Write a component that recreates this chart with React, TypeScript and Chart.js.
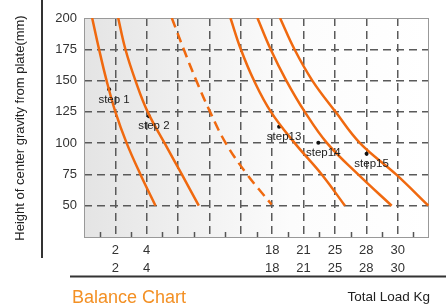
import React, { useEffect, useRef } from "react";
import { Chart, registerables } from "chart.js";

Chart.register(...registerables);

// ---- data ----
const HEIGHTS = [200, 175, 150, 125, 100, 75, 50];
const DASH_HEIGHTS = [200, 175, 150, 125, 100, 75, 51];
const STEP1_LOAD = [0.26, 0.48, 0.72, 1.0, 1.36, 1.8, 2.28];
const STEP2_LOAD = [1.09, 1.32, 1.64, 2.03, 2.57, 3.12, 3.66];
const DASH_LOAD = [2.8, 3.18, 3.58, 4.02, 4.52, 5.2, 5.98];
const STEP13_LOAD = [4.67, 5.0, 5.42, 5.96, 6.72, 7.58, 8.32];
const STEP14_LOAD = [5.53, 5.95, 6.45, 7.04, 7.75, 8.74, 9.81];
const STEP15_LOAD = [6.25, 6.71, 7.28, 8.02, 8.8, 9.95, 10.98];

const STEP_NAMES = ["step 1", "step 2", "step13", "step14", "step15"];
const STEP_LOADS = [0.8, 2.07, 6.22, 7.47, 9.01];
const STEP_HEIGHTS = [143, 121.5, 113, 100.4, 91.6];

const X_TICK_LABELS = ["", "2", "4", "", "", "", "18", "21", "25", "28", "30", ""];
const Y_MIN = 25;
const Y_MAX = 200;
const Y_STEP = 25;

const Y_TITLE = "Height of center gravity from plate(mm)";
const X_TITLE = "Total Load Kg";
const CHART_TITLE = "Balance Chart";

const ORANGE = "#f0690f";
const FONT = '"Liberation Sans", Arial, sans-serif';

const pts = (xs: number[], ys: number[]) => xs.map((x, i) => ({ x, y: ys[i] }));

const decorPlugin = {
  id: "decor",
  beforeDraw(chart: any) {
    const { ctx, chartArea: a } = chart;
    ctx.save();
    const g = ctx.createLinearGradient(a.left, 0, a.right, 0);
    g.addColorStop(0, "#e4e4e4");
    g.addColorStop(0.6, "#fcfcfc");
    g.addColorStop(1, "#ffffff");
    ctx.fillStyle = g;
    ctx.fillRect(a.left, a.top, a.right - a.left, a.bottom - a.top);
    ctx.restore();
  },
  beforeDatasetsDraw(chart: any) {
    const { ctx, chartArea: a, scales } = chart;
    ctx.save();
    ctx.strokeStyle = "#999";
    ctx.lineWidth = 1;
    ctx.strokeRect(a.left + 0.5, a.top + 0.5, a.right - a.left - 1, a.bottom - a.top);
    ctx.strokeStyle = "#555";
    ctx.lineWidth = 1.5;
    for (let v = 0.5; v < 11; v += 1) {
      const x = Math.round(scales.x.getPixelForValue(v)) + 0.5;
      ctx.beginPath();
      ctx.moveTo(x, a.bottom);
      ctx.lineTo(x, a.bottom - 5);
      ctx.stroke();
    }
    ctx.restore();
  },
  afterDatasetsDraw(chart: any) {
    const { ctx } = chart;
    const meta = chart.getDatasetMeta(6);
    ctx.save();
    ctx.font = `11.5px ${FONT}`;
    ctx.fillStyle = "#222";
    ctx.textAlign = "center";
    ctx.textBaseline = "middle";
    meta.data.forEach((el: any, i: number) => {
      ctx.fillText(STEP_NAMES[i], el.x + 5, el.y + 10);
    });
    ctx.restore();
  },
  afterDraw(chart: any) {
    const { ctx } = chart;
    ctx.save();
    ctx.strokeStyle = "#333";
    ctx.lineWidth = 2;
    ctx.beginPath();
    ctx.moveTo(42, 0);
    ctx.lineTo(42, 258);
    ctx.stroke();
    ctx.beginPath();
    ctx.moveTo(70, 276.5);
    ctx.lineTo(446, 276.5);
    ctx.stroke();

    ctx.fillStyle = "#222";
    ctx.font = `13px ${FONT}`;
    ctx.textBaseline = "middle";
    ctx.save();
    ctx.translate(20, 128);
    ctx.rotate(-Math.PI / 2);
    ctx.textAlign = "center";
    ctx.fillText(Y_TITLE, 0, 0);
    ctx.restore();

    ctx.textAlign = "right";
    ctx.font = `13.5px ${FONT}`;
    ctx.fillText(X_TITLE, 430, 297);

    ctx.textAlign = "left";
    ctx.fillStyle = "#f39024";
    ctx.font = `18px ${FONT}`;
    ctx.fillText(CHART_TITLE, 72, 298);
    ctx.restore();
  },
};

export default function App() {
  const ref = useRef<HTMLCanvasElement>(null);
  useEffect(() => {
    document.body.style.margin = "0";
    const curve = (data: any, dashed = false) => ({
      type: "line" as const,
      data,
      borderColor: ORANGE,
      borderWidth: 2.5,
      borderDash: dashed ? [10, 6] : [],
      pointRadius: 0,
      tension: 0.4,
      capBezierPoints: false,
      fill: false,
    });
    const chart = new Chart(ref.current as HTMLCanvasElement, {
      type: "line",
      data: {
        datasets: [
          curve(pts(STEP1_LOAD, HEIGHTS)),
          curve(pts(STEP2_LOAD, HEIGHTS)),
          curve(pts(DASH_LOAD, DASH_HEIGHTS), true),
          curve(pts(STEP13_LOAD, HEIGHTS)),
          curve(pts(STEP14_LOAD, HEIGHTS)),
          curve(pts(STEP15_LOAD, HEIGHTS)),
          {
            type: "scatter" as const,
            data: pts(STEP_LOADS, STEP_HEIGHTS),
            pointRadius: 2,
            pointBackgroundColor: "#111",
            pointBorderWidth: 0,
            showLine: false,
          } as any,
        ],
      },
      options: {
        animation: false,
        responsive: true,
        maintainAspectRatio: false,
        elements: { line: { capBezierPoints: false } },
        layout: { padding: { top: 18, right: 17, left: 0, bottom: 0 } },
        plugins: { legend: { display: false }, tooltip: { enabled: false } },
        scales: {
          x: {
            type: "linear",
            min: 0,
            max: 11,
            border: { display: false, dash: [8, 5] },
            afterFit: (s: any) => {
              s.height = 69;
            },
            afterBuildTicks: (s: any) => {
              s.ticks = X_TICK_LABELS.map((_, i) => ({ value: i }));
            },
            grid: {
              drawTicks: false,
              color: (c: any) =>
                c.tick && (c.tick.value === 0 || c.tick.value === 11) ? "rgba(0,0,0,0)" : "#5a5a5a",
              lineWidth: 1.5,
            },
            ticks: {
              autoSkip: false,
              maxRotation: 0,
              padding: 4,
              color: "#333",
              font: { family: FONT, size: 13, lineHeight: 1.4 },
              callback: (v: any) => {
                const l = X_TICK_LABELS[Math.round(Number(v))] || "";
                return l ? [l, l] : "";
              },
            },
          },
          y: {
            type: "linear",
            min: Y_MIN,
            max: Y_MAX,
            border: { display: false, dash: [8, 5] },
            afterFit: (s: any) => {
              s.width = 84;
            },
            grid: {
              drawTicks: false,
              color: (c: any) =>
                c.tick && (c.tick.value === Y_MIN || c.tick.value === Y_MAX) ? "rgba(0,0,0,0)" : "#5a5a5a",
              lineWidth: 1.5,
            },
            ticks: {
              stepSize: Y_STEP,
              padding: 7,
              color: "#333",
              font: { family: FONT, size: 13 },
              callback: (v: any) => (Number(v) === Y_MIN ? "" : String(v)),
            },
          },
        },
      },
      plugins: [decorPlugin],
    } as any);
    return () => chart.destroy();
  }, []);
  return (
    <div style={{ width: 446, height: 306, position: "relative" }}>
      <canvas ref={ref} />
    </div>
  );
}
